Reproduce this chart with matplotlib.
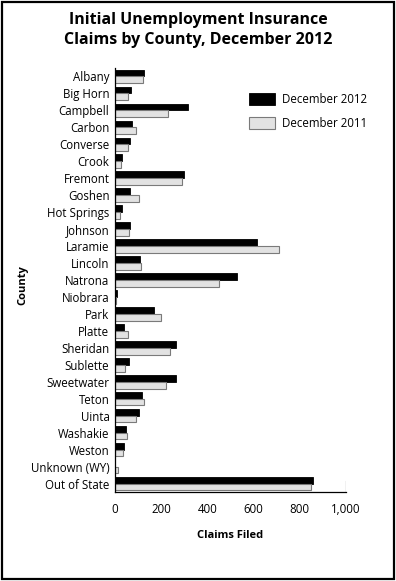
import numpy as np
import matplotlib
matplotlib.use('Agg')
from matplotlib import pyplot as plt
from matplotlib.patches import Rectangle

plt.rcParams['font.family'] = ['Open Sans', 'DejaVu Sans']

counties = ['Albany', 'Big Horn', 'Campbell', 'Carbon', 'Converse', 'Crook',
            'Fremont', 'Goshen', 'Hot Springs', 'Johnson', 'Laramie', 'Lincoln',
            'Natrona', 'Niobrara', 'Park', 'Platte', 'Sheridan', 'Sublette',
            'Sweetwater', 'Teton', 'Uinta', 'Washakie', 'Weston',
            'Unknown (WY)', 'Out of State']
dec_2012 = [124, 69, 317, 75, 63, 30, 300, 63, 29, 63, 615, 107, 528, 8,
            170, 40, 265, 62, 264, 118, 102, 49, 40, 1, 857]
dec_2011 = [121, 55, 228, 89, 55, 24, 289, 102, 20, 59, 709, 111, 449, 5,
            198, 58, 237, 42, 221, 124, 89, 50, 35, 12, 847]
xticks = [0, 200, 400, 600, 800, 1000]
xtick_labels = ['0', '200', '400', '600', '800', '1,000']

fig = plt.figure(figsize=(3.96, 5.81), dpi=100)
ax = fig.add_axes([0.2904, 0.1532, 0.5833, 0.7298])

y = np.arange(len(counties))
h = 0.4
ax.barh(y - h / 2, dec_2012, height=h, color='black', edgecolor='black',
        linewidth=0.6, label='December 2012')
ax.barh(y + h / 2, dec_2011, height=h, color='#e2e2e2', edgecolor='#7a7a7a',
        linewidth=0.8, label='December 2011')

ax.set_ylim(len(counties) - 0.5, -0.5)
ax.set_xlim(0, 1000)
ax.set_yticks(y)
ax.set_yticklabels(counties, fontsize=8.3)
ax.tick_params(axis='y', length=0, pad=4)
ax.set_xticks(xticks)
ax.set_xticklabels(xtick_labels, fontsize=8.3)
ax.tick_params(axis='x', direction='in', length=0, pad=8)
ax.axvline(1000, ymin=0, ymax=0.025, color='black', linewidth=0.8)

for s in ['top', 'right']:
    ax.spines[s].set_visible(False)
ax.spines['left'].set_linewidth(0.9)
ax.spines['bottom'].set_linewidth(0.9)

ax.set_ylabel('County', fontsize=8, fontweight='bold')
ax.yaxis.set_label_coords(-0.375, 0.488)
ax.set_xlabel('Claims Filed', fontsize=8, fontweight='bold', labelpad=10)

leg = ax.legend(loc='upper left', bbox_to_anchor=(0.535, 0.965), frameon=False,
                fontsize=8.3, handlelength=2.3, handleheight=1.2,
                labelspacing=0.9, handletextpad=0.6)

fig.text(0.5, 0.98, 'Initial Unemployment Insurance\nClaims by County, December 2012',
         ha='center', va='top', fontsize=11.5, fontweight='bold', linespacing=1.4)

fig.patches.append(Rectangle((0.004, 0.003), 0.992, 0.994, transform=fig.transFigure,
                             fill=False, edgecolor='black', linewidth=1.6))

fig.savefig('out.png', dpi=100)
